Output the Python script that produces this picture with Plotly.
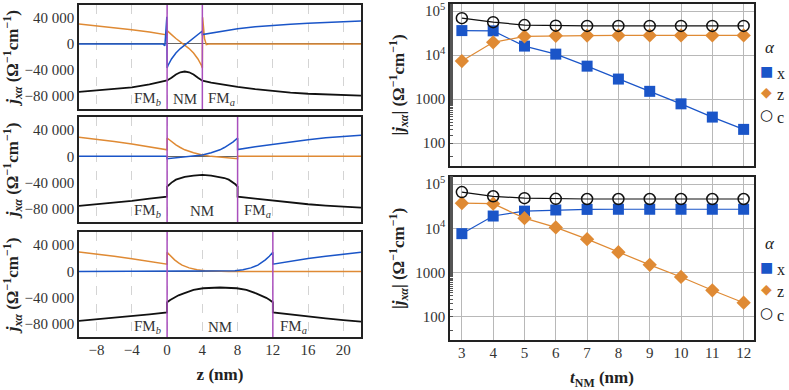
import plotly.graph_objects as go

# ---------------- данные: левые панели j_xα(z) ----------------
# t_NM = 4 нм
ZX1 = [-10, -6, -2, -0.5, -0.25, -0.03, 0, 0.1, 0.5, 1, 1.5, 2, 2.5, 3, 3.5, 4, 4, 5, 6, 8, 10, 12, 14, 16, 18, 20, 22]
JX1 = [0, 0, 0, 0, -2500, 42000, -37000, -33000, -23000, -14000, -7000, -1500, 3500, 8500, 14500, 20000,
       14500, 17000, 19000, 23500, 26500, 28800, 30500, 32000, 33300, 34400, 35400]
ZZ1 = [-10, -8, -6, -4, -2, -0.2, 0, 0, 0.1, 0.5, 1, 1.5, 2, 2.5, 3, 3.5, 3.9, 4, 4.03, 4.25, 4.45, 4.7, 22]
JZ1 = [30800, 28200, 25300, 22000, 18500, 14600, 14000, 20500, 19000, 14500, 8500, 3500, -1500, -7000,
       -14000, -23000, -33000, -37000, 41000, 8000, -1000, 0, 0]
ZC1 = [-10, -8, -6, -4, -2, -1, 0, 0.5, 1, 1.5, 2, 2.5, 3, 3.5, 4, 5, 6, 8, 10, 12, 14, 16, 18, 20, 22]
JC1 = [-73800, -71800, -69500, -66700, -62000, -59200, -56000, -52000, -47000, -43500, -42300, -43500,
       -47000, -52000, -56500, -59500, -62000, -66000, -69500, -72500, -74800, -76500, -77800, -78800, -79500]

# t_NM = 8 нм
ZX2 = [-10, -0.02, 0, 1, 2, 3, 4, 5, 6, 6.5, 7, 7.5, 8, 8, 10, 12, 14, 16, 18, 20, 22]
JX2 = [0, 0, -3500, -2300, -1200, 0, 2000, 5500, 10000, 13500, 17500, 22000, 28000,
       10300, 14500, 18500, 22300, 25500, 28200, 30300, 32000]
ZZ2 = [-10, -8, -6, -4, -2, 0, 0, 0.5, 1, 1.5, 2, 3, 4, 5, 6, 7, 8, 8, 22]
JZ2 = [29000, 26000, 22500, 18800, 14500, 10000, 28000, 22000, 17500, 13500, 10000, 5500, 2000, 0,
       -1200, -2300, -3500, 0, 0]
ZC2 = [-10, -8, -6, -4, -2, 0, 0, 0.25, 0.5, 1, 1.5, 2, 3, 4, 5, 6, 6.5, 7, 7.5, 7.75, 8, 8,
       10, 12, 14, 16, 18, 20, 22]
JC2 = [-75400, -73000, -70500, -67700, -64500, -61500, -46000, -42500, -40000, -35500, -33000, -31300,
       -29200, -28300, -29200, -31300, -33000, -35500, -40000, -42500, -46000, -61500,
       -64500, -67700, -70500, -73000, -75000, -76800, -78200]

# t_NM = 12 нм
ZX3 = [-10, 5, 6.5, 7.7, 8.6, 9.5, 10.3, 10.7, 11.15, 11.6, 12, 12, 14, 16, 18, 20, 22]
JX3 = [0, 0, 200, 1000, 2500, 5300, 9500, 13000, 17500, 23000, 29000, 11000, 15500, 19500, 23000, 26200, 29000]
ZZ3 = [-10, -8, -6, -4, -2, 0, 0, 0.4, 0.85, 1.3, 1.7, 2.5, 3.4, 4.3, 5.5, 7, 22]
JZ3 = [29500, 26500, 23000, 19300, 15300, 11000, 29000, 23000, 17500, 13000, 9500, 5300, 2500, 1000, 200, 0, 0]
ZC3 = [-10, -8, -6, -4, -2, 0, 0, 0.35, 0.75, 1.3, 1.9, 3, 4.1, 6, 7.9, 9, 10.1, 10.7, 11.25, 11.65, 12, 12,
       14, 16, 18, 20, 22]
JC3 = [-75300, -73000, -70700, -68000, -65500, -62500, -47000, -43500, -40300, -36500, -33500, -28200,
       -25700, -24600, -25700, -28200, -33500, -36500, -40300, -43500, -47000, -62500,
       -65800, -68800, -71500, -74200, -76500]

INTERFACES = [[0, 4], [0, 8], [0, 12]]
LABEL_Z = [[-2.2, 2, 6.2], [-2.2, 4, 10.3], [-2.2, 6, 14.3]]
LABELS = ["FM<sub><i>b</i></sub>", "NM", "FM<sub><i>a</i></sub>"]

# ---------------- данные: правые панели |j_xα|(t_NM) ----------------
TNM = [3, 4, 5, 6, 7, 8, 9, 10, 11, 12]
TOP_X = [36000, 35500, 16000, 10500, 5600, 2850, 1500, 780, 390, 205]
TOP_Z = [7300, 19500, 26500, 27500, 27800, 28000, 28000, 28000, 28000, 28000]
TOP_C = [69000, 56000, 48000, 46500, 46000, 46000, 46000, 46000, 46000, 46000]
BOT_X = [7600, 19000, 24500, 26000, 26800, 27000, 27000, 27000, 27000, 27000]
BOT_Z = [37000, 36000, 17000, 10500, 5700, 2900, 1500, 800, 400, 210]
BOT_C = [66000, 53000, 48000, 46500, 46000, 46000, 46000, 46000, 46000, 46000]

SERIES_NAMES = ["x", "z", "c"]

BLUE = "#1a55c8"
ORANGE = "#df8a34"
BLACK = "#111111"
PURPLE = "#a94fbd"
FONT = "Liberation Serif"
W, H = 789, 390

fig = go.Figure()

left = [(ZX1, JX1, ZZ1, JZ1, ZC1, JC1), (ZX2, JX2, ZZ2, JZ2, ZC2, JC2), (ZX3, JX3, ZZ3, JZ3, ZC3, JC3)]
for i, (zx, jx, zz, jz, zc, jc) in enumerate(left):
    sfx = "" if i == 0 else str(i + 1)
    for zs, js, col, w in [(zc, jc, BLACK, 1.8), (zz, jz, ORANGE, 1.5), (zx, jx, BLUE, 1.5)]:
        fig.add_trace(go.Scatter(x=zs, y=js, mode="lines", line=dict(color=col, width=w),
                                 xaxis="x" + sfx, yaxis="y" + sfx, showlegend=False))
    for zi in INTERFACES[i]:
        fig.add_shape(type="line", x0=zi, x1=zi, y0=0, y1=1, xref="x" + sfx, yref="y" + sfx + " domain",
                      line=dict(color=PURPLE, width=1.5))
    for zl, txt in zip(LABEL_Z[i], LABELS):
        fig.add_annotation(x=zl, y=-84000, xref="x" + sfx, yref="y" + sfx, text=txt, showarrow=False,
                           font=dict(family=FONT, size=15, color="#333"))

# правые панели
styles = [
    (BLUE, dict(symbol="square", size=11, color=BLUE), "■"),
    (ORANGE, dict(symbol="diamond", size=11, color=ORANGE), "◆"),
    (BLACK, dict(symbol="circle-open", size=11, color=BLACK, line=dict(width=1.5)), "○"),
]
right = [("4", [TOP_X, TOP_Z, TOP_C]), ("5", [BOT_X, BOT_Z, BOT_C])]
for n, vals_list in right:
    for vals, name, (col, mk, _) in zip(vals_list, SERIES_NAMES, styles):
        fig.add_trace(go.Scatter(x=TNM, y=vals, mode="lines+markers", line=dict(color=col, width=1.2),
                                 marker=mk, name=name, xaxis="x" + n, yaxis="y" + n, showlegend=False))

# легенды (α) справа — подписи вручную, чтобы символ стоял близко к тексту
legend_rows = [(47, [71, 92, 115]), (243, [267, 289, 313])]
for ty, rows in legend_rows:
    fig.add_annotation(x=770 / W, y=1 - ty / H, xref="paper", yref="paper", text="<i>α</i>", showarrow=False,
                       xanchor="center", yanchor="middle", font=dict(family=FONT, size=17, color="#222"))
    for ry, name, (col, mk, glyph) in zip(rows, SERIES_NAMES, styles):
        fig.add_annotation(x=766 / W, y=1 - ry / H, xref="paper", yref="paper", text=glyph, showarrow=False,
                           xanchor="center", yanchor="middle",
                           font=dict(family="DejaVu Sans", size=14 if glyph != "○" else 15, color=col))
        fig.add_annotation(x=775 / W, y=1 - (ry + 2) / H, xref="paper", yref="paper", text=name,
                           showarrow=False, xanchor="left", yanchor="middle",
                           font=dict(family=FONT, size=16, color="#222"))

frame = dict(showline=True, mirror=True, linecolor="#222", linewidth=1.5, automargin=False)
tickfont = dict(family=FONT, size=15, color="#333")
ytitle_left = "<b><i>j</i><sub><i>xα</i></sub> (Ω<sup>−1</sup>cm<sup>−1</sup>)</b>"
ytitle_right = "<b>|<i>j</i><sub><i>xα</i></sub>| (Ω<sup>−1</sup>cm<sup>−1</sup>)</b>"

layout = dict(
    width=W, height=H, margin=dict(l=0, r=0, t=0, b=0), showlegend=False,
    plot_bgcolor="white", paper_bgcolor="white",
    font=dict(family=FONT, size=15, color="#222"),
)

ydomains = [[0.7205, 0.9872], [0.4308, 0.7000], [0.1359, 0.4051]]
for i, dom in enumerate(ydomains):
    sfx = "" if i == 0 else str(i + 1)
    layout["xaxis" + sfx] = dict(
        domain=[0.1001, 0.4575], anchor="y" + sfx, range=[-10, 22],
        tickvals=[-8, -4, 0, 4, 8, 12, 16, 20], ticktext=["−8", "−4", "0", "4", "8", "12", "16", "20"],
        showticklabels=(i == 2), tickfont=tickfont, ticklabelstandoff=-2,
        showgrid=True, gridcolor="#d4d4d4", griddash="dash", gridwidth=1, zeroline=False, **frame)
    layout["yaxis" + sfx] = dict(
        domain=dom, anchor="x" + sfx, range=[-100000, 60000],
        tickvals=[-80000, -40000, 0, 40000], ticktext=["−80 000", "−40 000", "0", "40 000"],
        tickfont=tickfont, showgrid=False, zeroline=True, zerolinecolor="#666", zerolinewidth=1,
        title=dict(text=ytitle_left, font=dict(family=FONT, size=17, color="#222"), standoff=6), **frame)
layout["xaxis3"]["title"] = dict(text="<b>z (nm)</b>", font=dict(family=FONT, size=17, color="#222"), standoff=11)

rdomains = [[0.5744, 0.9897], [0.1282, 0.5462]]
for n, dom in zip(["4", "5"], rdomains):
    layout["xaxis" + n] = dict(
        domain=[0.5703, 0.9556], anchor="y" + n, range=[2.62, 12.33], dtick=1,
        showticklabels=(n == "5"), tickfont=tickfont, ticklabelstandoff=-2,
        showgrid=True, gridcolor="#b8b8b8", gridwidth=1, zeroline=False, **frame)
    layout["yaxis" + n] = dict(
        domain=dom, anchor="x" + n, type="log", range=[1.48, 5.16],
        tickvals=[100, 1000, 10000, 100000], ticktext=["100", "1000", "10<sup>4</sup>", "10<sup>5</sup>"],
        tickfont=tickfont, showgrid=True, gridcolor="#b8b8b8", gridwidth=1,
        minor=dict(ticks="inside", ticklen=3, tickcolor="#555", showgrid=False),
        title=dict(text=ytitle_right, font=dict(family=FONT, size=17, color="#222"), standoff=6), **frame)
layout["xaxis5"]["title"] = dict(text="<b><i>t</i><sub>NM</sub> (nm)</b>",
                                 font=dict(family=FONT, size=17, color="#222"), standoff=12)

fig.update_layout(**layout)
# убираем стандартный отступ body, чтобы график занимал окно 789x390 без сдвига
fig.write_html("out.html", config={"displayModeBar": False},
               post_script="document.body.style.margin='0px';")
